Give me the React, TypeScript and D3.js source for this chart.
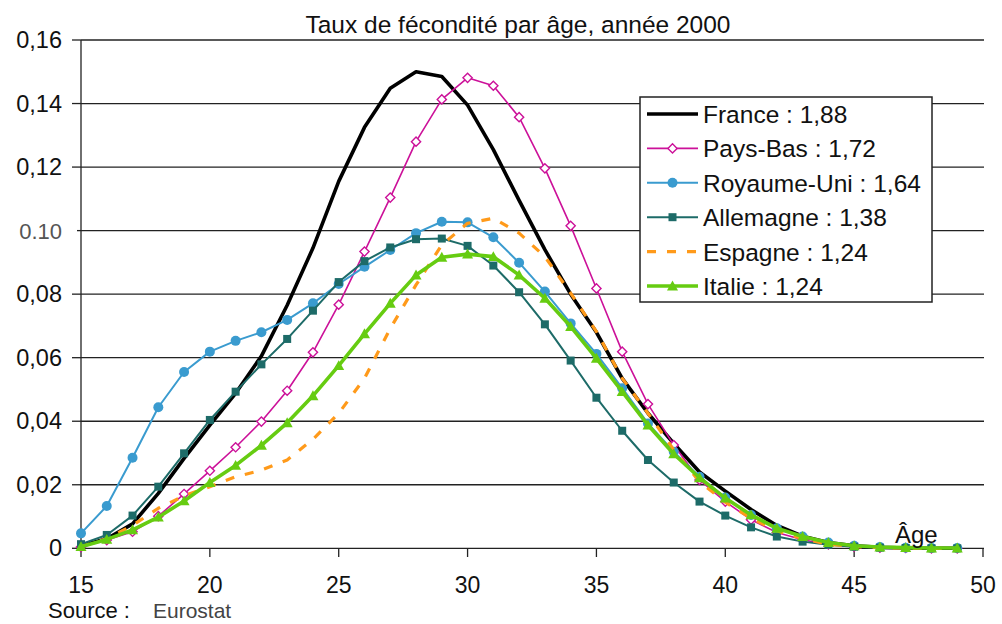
import React from "react";
import * as d3 from "d3";

const ages = [15,16,17,18,19,20,21,22,23,24,25,26,27,28,29,30,31,32,33,34,35,36,37,38,39,40,41,42,43,44,45,46,47,48,49];

const france = [0.0008,0.003,0.0077,0.0173,0.0283,0.0388,0.0488,0.0605,0.0765,0.0945,0.1155,0.1325,0.1448,0.150,0.1485,0.1395,0.1255,0.1095,0.094,0.080,0.068,0.0535,0.0425,0.033,0.024,0.018,0.0122,0.0072,0.0038,0.0018,0.0008,0.0003,0.0001,0,0];
const paysBas = [0.0004,0.0026,0.0052,0.0101,0.0171,0.0244,0.0318,0.0399,0.0496,0.0617,0.0767,0.0934,0.1104,0.128,0.1413,0.1481,0.1456,0.1357,0.1196,0.1015,0.0818,0.0619,0.0454,0.0325,0.0215,0.0147,0.009,0.005,0.0027,0.0012,0.0005,0.0002,0.0001,0,0];
const royaumeUni = [0.0047,0.0133,0.0285,0.0444,0.0555,0.0619,0.0653,0.068,0.0719,0.0771,0.0832,0.0886,0.0939,0.0992,0.1028,0.1026,0.0979,0.0899,0.0808,0.0708,0.0612,0.0504,0.0393,0.0304,0.0225,0.016,0.0105,0.0063,0.0037,0.0018,0.0008,0.0004,0.0002,0.0001,0.0001];
const allemagne = [0.0013,0.0042,0.0103,0.0194,0.0299,0.0404,0.0493,0.0579,0.0659,0.0748,0.0838,0.0904,0.0947,0.0973,0.0975,0.0952,0.089,0.0806,0.0705,0.0591,0.0474,0.037,0.0278,0.0207,0.0147,0.0103,0.0066,0.0037,0.0021,0.0011,0.0005,0.0002,0.0001,0,0];
const espagne = [0.0005,0.003,0.0072,0.0126,0.0165,0.0194,0.0225,0.0246,0.0278,0.0343,0.0425,0.0535,0.0692,0.0829,0.0955,0.1023,0.1039,0.0992,0.0918,0.0803,0.0682,0.0535,0.0425,0.031,0.021,0.0145,0.0095,0.0055,0.003,0.0013,0.0005,0.0002,0.0001,0,0];
const italie = [0.0005,0.0028,0.0058,0.0098,0.0149,0.0207,0.0261,0.0324,0.0395,0.048,0.0575,0.0675,0.0771,0.086,0.0916,0.0926,0.0918,0.086,0.0787,0.0698,0.0598,0.0493,0.0388,0.0297,0.0222,0.0158,0.0105,0.0063,0.0037,0.0018,0.0008,0.0004,0.0002,0.0001,0.0001];

const seriesNames = ["France : 1,88","Pays-Bas : 1,72","Royaume-Uni : 1,64","Allemagne : 1,38","Espagne : 1,24","Italie : 1,24"];
const xTicks = [15,20,25,30,35,40,45,50];
const yTicks = [0,0.02,0.04,0.06,0.08,0.10,0.12,0.14,0.16];
const yTickLabels = ["0","0,02","0,04","0,06","0,08","0.10","0,12","0,14","0,16"];

const title = "Taux de fécondité par âge, année 2000";

type Style = { color: string; width: number; dash?: string; marker: "none" | "diamond" | "circle" | "square" | "triangle" };
const styles: Style[] = [
  { color: "#000000", width: 3.6, marker: "none" },
  { color: "#cc1199", width: 1.6, marker: "diamond" },
  { color: "#3a9bcf", width: 2, marker: "circle" },
  { color: "#1d6b68", width: 2, marker: "square" },
  { color: "#ff9a1a", width: 3.2, dash: "9,11", marker: "none" },
  { color: "#66cc11", width: 3.6, marker: "triangle" },
];

const FONT = "Liberation Sans, Arial, sans-serif";

function Marker({ kind, x, y, color }: { kind: Style["marker"]; x: number; y: number; color: string }) {
  if (kind === "diamond") {
    const s = 4.6;
    return <path d={`M${x},${y - s}L${x + s},${y}L${x},${y + s}L${x - s},${y}Z`} fill="#fff" stroke={color} strokeWidth={1.4} />;
  }
  if (kind === "circle") return <circle cx={x} cy={y} r={5} fill={color} />;
  if (kind === "square") return <rect x={x - 4} y={y - 4} width={8} height={8} fill={color} />;
  if (kind === "triangle") {
    const s = 5.5;
    return <path d={`M${x},${y - s}L${x + s},${y + s * 0.8}L${x - s},${y + s * 0.8}Z`} fill={color} />;
  }
  return null;
}

export default function App() {
  const data = [france, paysBas, royaumeUni, allemagne, espagne, italie];
  const x = d3.scaleLinear().domain([15, 50]).range([81, 983]);
  const y = d3.scaleLinear().domain([0, 0.16]).range([548.3, 40]);
  const line = d3.line<number>().x((_, i) => x(ages[i])).y((d) => y(d));

  const legendX = 640, legendY = 97, legendW = 292, legendH = 205;
  const rowY = (i: number) => 114 + i * 34.4;

  return (
    <svg width={1002} height={624} style={{ position: "absolute", left: 0, top: 0, background: "#fff" }} fontFamily={FONT}>
      <rect width={1002} height={624} fill="#fff" />
      <text x={518} y={33} textAnchor="middle" fontSize={24.5} fill="#111">{title}</text>
      {yTicks.map((t, i) => (
        <g key={"g" + i}>
          {t > 0 && <line x1={81} x2={984} y1={y(t)} y2={y(t)} stroke="#222" strokeWidth={1.3} />}
          <line x1={i === 5 ? 77 : 72} x2={81} y1={y(t)} y2={y(t)} stroke="#222" strokeWidth={1.3} />
          <text x={62} y={y(t) + 8} textAnchor="end" fontSize={i === 5 ? 22 : 23.5} fill={i === 5 ? "#555" : "#111"}>{yTickLabels[i]}</text>
        </g>
      ))}
      <line x1={81} x2={81} y1={40} y2={548.3} stroke="#222" strokeWidth={1.3} />
      <line x1={81} x2={984} y1={548.3} y2={548.3} stroke="#222" strokeWidth={1.3} />
      {xTicks.map((t) => (
        <g key={"x" + t}>
          <line x1={x(t)} x2={x(t)} y1={548.3} y2={557} stroke="#222" strokeWidth={1.3} />
          <text x={x(t)} y={593} textAnchor="middle" fontSize={23} fill="#111">{t}</text>
        </g>
      ))}
      {data.map((d, si) => {
        const st = styles[si];
        return (
          <g key={"s" + si}>
            <path d={line(d) || ""} fill="none" stroke={st.color} strokeWidth={st.width} strokeDasharray={st.dash} strokeLinejoin="round" />
            {d.map((v, i) => (
              <Marker key={i} kind={st.marker} x={x(ages[i])} y={y(v)} color={st.color} />
            ))}
          </g>
        );
      })}
      <text x={895} y={543} fontSize={24} fill="#111">Âge</text>
      <rect x={legendX} y={legendY} width={legendW} height={legendH} fill="#fff" stroke="#222" strokeWidth={1.5} />
      {seriesNames.map((name, i) => {
        const st = styles[i];
        const cy = rowY(i);
        return (
          <g key={"l" + i}>
            <line x1={647} x2={698} y1={cy} y2={cy} stroke={st.color} strokeWidth={st.width} strokeDasharray={st.dash} />
            <Marker kind={st.marker} x={672.5} y={cy} color={st.color} />
            <text x={703} y={cy + 9} fontSize={24.5} fill="#111">{name}</text>
          </g>
        );
      })}
      <text x={48} y={618} fontSize={22} fill="#111">Source :</text>
      <text x={153} y={618} fontSize={21} fill="#444">Eurostat</text>
    </svg>
  );
}
